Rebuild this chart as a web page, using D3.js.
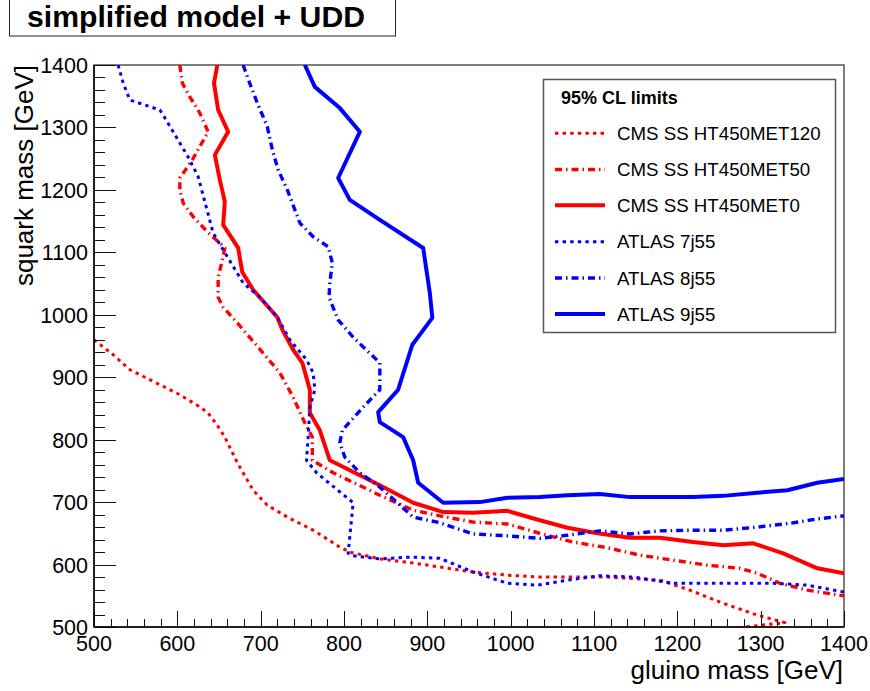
<!DOCTYPE html>
<html>
<head>
<meta charset="utf-8">
<script src="https://cdn.jsdelivr.net/npm/d3@7"></script>
<style>
  html, body { margin: 0; padding: 0; background: #fff; }
  svg { display: block; font-family: "Liberation Sans", Arial, Helvetica, sans-serif; }
</style>
</head>
<body>
<svg id="chart" width="870" height="691"></svg>
<script>
// ---- data (gluino mass, squark mass) in GeV ----
const cmsMET120 = [[500,960],[523,936],[543,912],[579,888],[603,872],[624,855],[636,844],[648,823],[657,804],[672,763],[691,719],[708,695],[732,676],[763,655],[795,628],[807,620],[843,609],[880,603],[915,596],[955,588],[996,583],[1035,580],[1075,580],[1116,580],[1179,575],[1215,559],[1255,538],[1296,519],[1329,507],[1281,500],[1260,496]];
const cmsMET50 = [[603,1400],[606,1371],[615,1349],[627,1323],[637,1293],[618,1248],[603,1219],[603,1200],[607,1179],[619,1157],[636,1133],[649,1117],[657,1107],[654,1088],[649,1060],[649,1028],[655,1012],[672,987],[697,948],[723,907],[739,868],[753,827],[762,804],[762,767],[787,747],[843,711],[883,687],[915,678],[955,668],[996,665],[1035,650],[1075,636],[1116,627],[1155,615],[1195,607],[1236,599],[1275,594],[1296,586],[1323,570],[1356,559],[1400,550]];
const cmsMET0 = [[648,1400],[644,1371],[649,1328],[661,1293],[645,1256],[651,1216],[657,1181],[655,1144],[673,1107],[678,1068],[691,1040],[720,996],[726,976],[739,944],[750,923],[759,880],[759,843],[771,815],[783,767],[843,727],[883,699],[919,684],[955,683],[996,686],[1035,671],[1068,659],[1104,650],[1143,643],[1179,643],[1219,636],[1255,631],[1291,634],[1327,618],[1368,594],[1400,586]];
const atlas7j55 = [[529,1400],[535,1371],[543,1344],[579,1328],[583,1320],[615,1248],[625,1221],[643,1131],[655,1104],[679,1051],[699,1028],[720,996],[735,960],[755,928],[763,907],[765,880],[759,852],[757,804],[755,767],[767,747],[811,699],[805,618],[811,614],[843,609],[880,612],[915,610],[955,588],[996,570],[1032,567],[1068,575],[1107,582],[1147,580],[1195,570],[1236,570],[1315,570],[1356,567],[1400,556]];
const atlas8j55 = [[679,1400],[684,1381],[696,1339],[708,1301],[714,1264],[721,1232],[732,1200],[738,1179],[747,1147],[763,1125],[781,1109],[786,1083],[783,1051],[782,1028],[793,992],[811,964],[843,923],[843,880],[823,852],[798,815],[795,795],[801,772],[819,747],[843,724],[864,699],[883,676],[915,667],[955,649],[996,646],[1035,642],[1068,647],[1107,654],[1143,649],[1179,654],[1219,655],[1255,655],[1296,660],[1335,666],[1368,673],[1400,678]];
const atlas9j55 = [[753,1400],[765,1365],[795,1331],[819,1293],[793,1219],[807,1184],[843,1152],[895,1107],[903,1035],[906,995],[882,952],[865,880],[841,844],[843,828],[871,804],[883,767],[889,731],[919,699],[963,700],[996,707],[1035,708],[1068,711],[1107,713],[1143,708],[1179,708],[1219,708],[1255,710],[1296,715],[1332,719],[1368,731],[1400,737]];

const seriesNames = ["CMS SS HT450MET120","CMS SS HT450MET50","CMS SS HT450MET0","ATLAS 7j55","ATLAS 8j55","ATLAS 9j55"];
const xTicks = [500,600,700,800,900,1000,1100,1200,1300,1400];
const yTicks = [500,600,700,800,900,1000,1100,1200,1300,1400];
const titleText = "simplified model + UDD";
const legendTitle = "95% CL limits";
const xTitle = "gluino mass [GeV]";
const yTitle = "squark mass [GeV]";

// ---- styles ----
const styles = [
  {color:"#ff0000", width:3, dash:"3.4 4.2"},
  {color:"#ff0000", width:3.4, dash:"7 4 1.5 4"},
  {color:"#ff0000", width:4, dash:null},
  {color:"#0000ff", width:3, dash:"3.4 4.2"},
  {color:"#0000ff", width:3.4, dash:"7 4 1.5 4"},
  {color:"#0000ff", width:4, dash:null}
];
const seriesData = [cmsMET120, cmsMET50, cmsMET0, atlas7j55, atlas8j55, atlas9j55];

const svg = d3.select("#chart");
const L = 94, R = 844, T = 65, B = 627;
const x = d3.scaleLinear().domain([500,1400]).range([L,R]);
const y = d3.scaleLinear().domain([500,1400]).range([B,T]);

// title box
svg.append("rect").attr("x",9.5).attr("y",-1).attr("width",386).attr("height",37)
  .attr("fill","#fff").attr("stroke","#222").attr("stroke-width",1);
svg.append("text").attr("x",27).attr("y",27).attr("font-size",30.2).attr("font-weight","bold")
  .attr("fill","#000").text(titleText);

// clip
svg.append("clipPath").attr("id","clip").append("rect")
  .attr("x",L).attr("y",T).attr("width",R-L).attr("height",B-T);

// frame (top/right)
svg.append("rect").attr("x",L).attr("y",T).attr("width",R-L).attr("height",B-T)
  .attr("fill","none").attr("stroke","#555").attr("stroke-width",1.5);

// curves
const line = d3.line().x(d=>x(d[0])).y(d=>y(d[1]));
const g = svg.append("g").attr("clip-path","url(#clip)");
seriesData.forEach((data,i)=>{
  const s = styles[i];
  g.append("path").attr("d",line(data)).attr("fill","none")
    .attr("stroke",s.color).attr("stroke-width",s.width)
    .attr("stroke-linejoin","round")
    .attr("stroke-dasharray",s.dash);
});

// axes
const xMinor = d3.range(500,1401,20);
const yMinor = d3.range(500,1401,20);
const ax = svg.append("g");
ax.selectAll(".xm").data(xMinor).join("line")
  .attr("x1",d=>Math.round(x(d))+0.5).attr("x2",d=>Math.round(x(d))+0.5)
  .attr("y1",B).attr("y2",d=>B-(xTicks.includes(d)?16:8))
  .attr("stroke","#111").attr("stroke-width",1);
ax.selectAll(".ym").data(yMinor).join("line")
  .attr("y1",d=>Math.round(y(d))+0.5).attr("y2",d=>Math.round(y(d))+0.5)
  .attr("x1",L).attr("x2",d=>L+(yTicks.includes(d)?22:11))
  .attr("stroke","#111").attr("stroke-width",1);
ax.append("line").attr("x1",L).attr("x2",R).attr("y1",B).attr("y2",B).attr("stroke","#000").attr("stroke-width",1.5);
ax.append("line").attr("x1",L).attr("x2",L).attr("y1",T).attr("y2",B).attr("stroke","#000").attr("stroke-width",1.5);

ax.selectAll(".xl").data(xTicks).join("text")
  .attr("x",d=>x(d)).attr("y",651).attr("text-anchor","middle")
  .attr("font-size",21.5).attr("fill","#000").text(d=>d);
ax.selectAll(".yl").data(yTicks).join("text")
  .attr("x",88).attr("y",d=>y(d)+8).attr("text-anchor","end")
  .attr("font-size",21.5).attr("fill","#000").text(d=>d);

// axis titles
svg.append("text").attr("x",843).attr("y",679).attr("text-anchor","end")
  .attr("font-size",26).attr("fill","#000").text(xTitle);
svg.append("text").attr("transform","translate(33,65) rotate(-90)").attr("text-anchor","end")
  .attr("font-size",26).attr("fill","#000").text(yTitle);

// legend
const lg = svg.append("g");
lg.append("rect").attr("x",543.5).attr("y",79.5).attr("width",292).attr("height",253)
  .attr("fill","#fff").attr("stroke","#555").attr("stroke-width",1.5);
lg.append("text").attr("x",561).attr("y",104).attr("font-size",18).attr("font-weight","bold")
  .attr("fill","#000").text(legendTitle);
const legY = [133.3,169.5,205.3,241.7,278,314];
seriesNames.forEach((name,i)=>{
  const s = styles[i];
  lg.append("line").attr("x1",555).attr("x2",605).attr("y1",legY[i]).attr("y2",legY[i])
    .attr("stroke",s.color).attr("stroke-width",s.width).attr("stroke-dasharray",s.dash);
  lg.append("text").attr("x",617).attr("y",legY[i]+6.7).attr("font-size",18.7)
    .attr("fill","#000").text(name);
});
</script>
</body>
</html>
